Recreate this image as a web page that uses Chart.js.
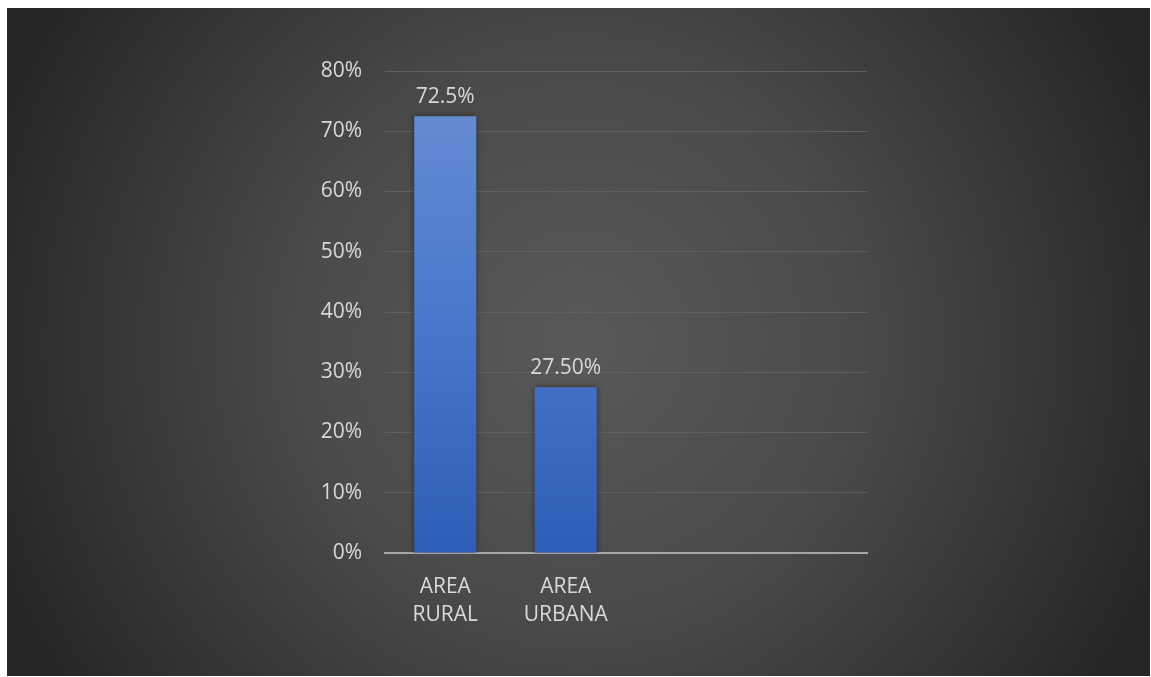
<!DOCTYPE html>
<html>
<head>
<meta charset="utf-8">
<script src="https://cdn.jsdelivr.net/npm/chart.js@4.4.1/dist/chart.umd.min.js"></script>
<style>
  html, body { margin: 0; padding: 0; background: #ffffff; }
  #wrap { width: 1151px; height: 677px; position: relative; }
</style>
</head>
<body>
<div id="wrap"><canvas id="c" width="1151" height="677"></canvas></div>
<script>
const categories = [["AREA", "RURAL"], ["AREA", "URBANA"], "", ""];
const values = [72.5, 27.5, null, null];
const valueLabels = ["72.5%", "27.50%", "", ""];
const yTicks = [0, 10, 20, 30, 40, 50, 60, 70, 80];

const FONT = "'Open Sans', sans-serif";
const TEXT = "#d9d9d9";

const bgPlugin = {
  id: 'bg',
  beforeDraw(chart) {
    const ctx = chart.ctx;
    const W = chart.width, H = chart.height;
    ctx.save();
    ctx.fillStyle = '#ffffff';
    ctx.fillRect(0, 0, W, H);
    const x0 = 7, y0 = 8, x1 = 1150, y1 = 676;
    const cx = (x0 + x1) / 2, cy = (y0 + y1) / 2;
    const g = ctx.createRadialGradient(cx, cy, 0, cx, cy, 620);
    g.addColorStop(0, '#595959');
    g.addColorStop(0.45, '#4a4a4a');
    g.addColorStop(1, '#262626');
    ctx.fillStyle = g;
    ctx.fillRect(x0, y0, x1 - x0, y1 - y0);
    ctx.restore();
  }
};

const labelPlugin = {
  id: 'vlabels',
  afterDatasetsDraw(chart) {
    const ctx = chart.ctx;
    const meta = chart.getDatasetMeta(0);
    ctx.save();
    ctx.font = "21px " + FONT;
    ctx.fillStyle = TEXT;
    ctx.textAlign = 'center';
    ctx.textBaseline = 'alphabetic';
    meta.data.forEach((bar, i) => {
      if (values[i] == null) return;
      ctx.fillText(valueLabels[i], bar.x, bar.y - 13);
    });
    ctx.restore();
  }
};

const shadowPlugin = {
  id: 'barShadow',
  beforeDatasetsDraw(chart) {
    const ctx = chart.ctx;
    ctx.save();
    ctx.shadowColor = 'rgba(0,0,0,0.45)';
    ctx.shadowBlur = 6;
    ctx.shadowOffsetX = 0;
    ctx.shadowOffsetY = 0;
  },
  afterDatasetsDraw(chart) {
    chart.ctx.restore();
  }
};

const ctx = document.getElementById('c').getContext('2d');
new Chart(ctx, {
  type: 'bar',
  data: {
    labels: categories,
    datasets: [{
      data: values,
      backgroundColor(context) {
        const chart = context.chart;
        const area = chart.chartArea;
        if (!area) return '#4472c4';
        const c = chart.ctx;
        const g = c.createLinearGradient(0, area.top, 0, area.bottom);
        g.addColorStop(0, '#6a8fd4');
        g.addColorStop(0.5, '#4a78cc');
        g.addColorStop(1, '#2e5db7');
        return g;
      },
      borderWidth: 0,
      categoryPercentage: 1.0,
      barPercentage: 0.515
    }]
  },
  options: {
    responsive: false,
    animation: false,
    devicePixelRatio: 1,
    layout: { padding: { left: 0, right: 284, top: 71, bottom: 0 } },
    plugins: {
      legend: { display: false },
      tooltip: { enabled: false }
    },
    scales: {
      x: {
        grid: { display: false, drawTicks: false },
        border: { display: true, color: '#a6a6a6', width: 2 },
        ticks: {
          color: TEXT,
          font: { family: FONT, size: 21, lineHeight: 1.333 },
          padding: 20,
          maxRotation: 0,
          autoSkip: false
        },
        afterFit(scale) { scale.height = 124; }
      },
      y: {
        min: 0,
        max: 80,
        afterBuildTicks(scale) { scale.ticks = yTicks.map(v => ({ value: v })); },
        grid: { color: '#606060', lineWidth: 1, drawTicks: false },
        border: { display: false },
        ticks: {
          color: TEXT,
          font: { family: FONT, size: 21 },
          padding: 23,
          callback: v => v + '%'
        },
        afterFit(scale) { scale.width = 385; }
      }
    }
  },
  plugins: [bgPlugin, shadowPlugin, labelPlugin]
});
</script>
</body>
</html>
